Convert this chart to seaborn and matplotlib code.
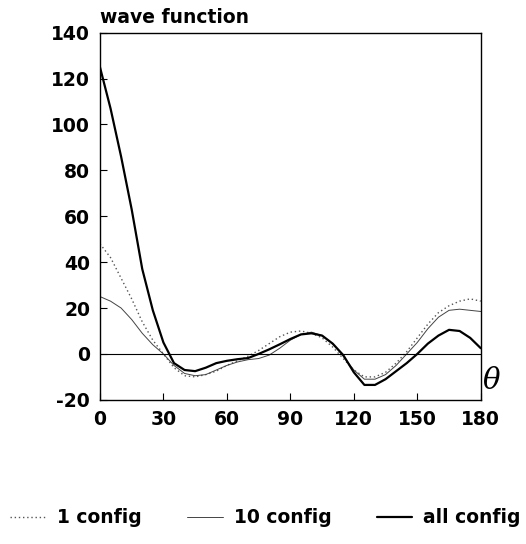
import numpy as np
import pandas as pd
import matplotlib
matplotlib.use("Agg")
import matplotlib.pyplot as plt
import seaborn as sns

# values (every 5 degrees)
theta = list(range(0, 181, 5))
one_config = [48, 42, 33, 24, 14, 6, 0, -6, -9.5, -10, -9, -7.5, -5, -3, -1, 1.5, 4.5, 7.5, 9.5,
              10, 9, 7, 3, -2, -7, -10, -10, -8, -4, 1, 7, 13, 18, 21, 23, 24, 23]
ten_config = [25, 23, 20, 15, 9, 4, 0, -5, -8.5, -9.5, -9, -7, -5, -3.5, -2.5, -2, -0.5, 2.5, 6,
              8.5, 9.5, 8, 4.5, -1, -7, -11, -11, -9, -5, 0, 5, 11, 16, 19, 19.5, 19, 18.5]
all_config = [125, 107, 86, 63, 37, 19, 5, -4, -7, -7.5, -6, -4, -3, -2.3, -1.8, 0, 2, 4.2, 6.5,
              8.5, 9, 8, 4.5, -0.5, -8, -13.5, -13.5, -11, -7.5, -4, 0, 4.5, 8, 10.5, 10, 7, 2.5]
labels = ["1 config", "10 config", "all config"]
x_ticks = [0, 30, 60, 90, 120, 150, 180]
y_ticks = [-20, 0, 20, 40, 60, 80, 100, 120, 140]

df = pd.DataFrame({"theta": theta * 3,
                   "value": one_config + ten_config + all_config,
                   "series": sum([[l] * len(theta) for l in labels], [])})

sns.set_style("ticks")
plt.rcParams['font.family'] = ['DejaVu Sans']
plt.rcParams['font.weight'] = 'bold'
plt.rcParams['text.color'] = 'black'
plt.rcParams['xtick.color'] = 'black'
plt.rcParams['ytick.color'] = 'black'
plt.rcParams['axes.unicode_minus'] = False

fig = plt.figure(figsize=(5.26, 5.44), dpi=100)
ax = fig.add_axes([0.190, 0.265, 0.724, 0.675])

styles = {"1 config": dict(color="#555555", linestyle=(0, (1, 2)), linewidth=1.0),
          "10 config": dict(color="#444444", linestyle="-", linewidth=0.7),
          "all config": dict(color="black", linestyle="-", linewidth=1.6)}
for lab in labels:
    sns.lineplot(data=df[df["series"] == lab], x="theta", y="value", ax=ax,
                 label=lab, legend=False, **styles[lab])

ax.axhline(0, color="black", linewidth=0.8)
ax.set_xlim(0, 180)
ax.set_ylim(-20, 140)
ax.set_xticks(x_ticks)
ax.set_yticks(y_ticks)
ax.tick_params(direction="in", length=5, width=0.8, labelsize=13.5, pad=7)
for s in ax.spines.values():
    s.set_linewidth(1.0)
    s.set_color("black")
ax.set_xlabel("")
ax.set_ylabel("")

ax.text(0, 1.015, "wave function", transform=ax.transAxes, fontsize=13.5, ha="left", va="bottom")
ax.text(1.005, 0.05, "θ", transform=ax.transAxes, fontsize=21, ha="left", va="center",
        family="DejaVu Serif", style="italic", weight="normal")

handles = [plt.Line2D([], [], **styles[lab]) for lab in labels]
fig.legend(handles, labels, loc="center", bbox_to_anchor=(0.505, 0.048), ncol=3, frameon=False,
           fontsize=13.5, handlelength=1.9, columnspacing=2.4, handletextpad=0.6)

plt.savefig("out.png", dpi=100)
